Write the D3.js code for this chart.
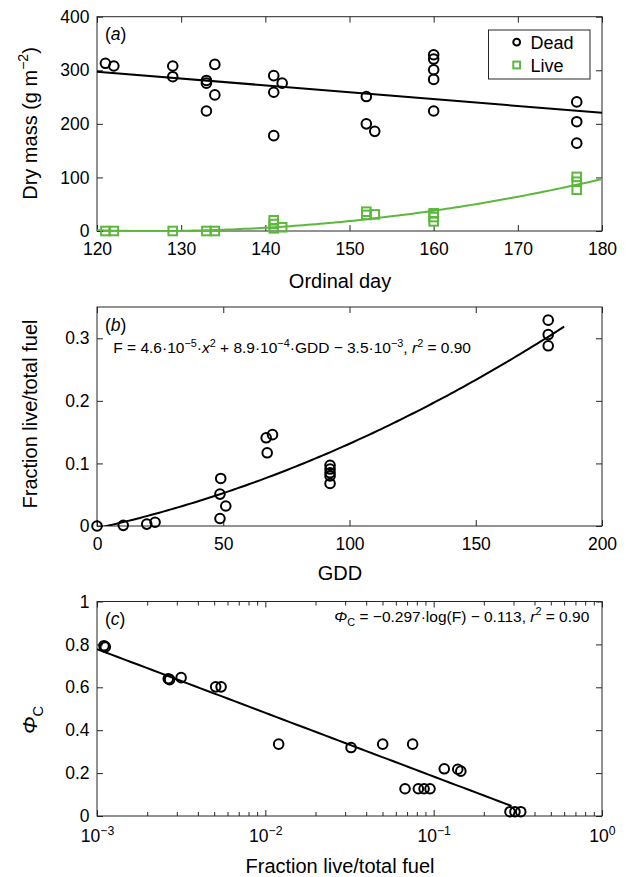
<!DOCTYPE html>
<html>
<head>
<meta charset="utf-8">
<script src="https://cdn.jsdelivr.net/npm/d3@7"></script>
<style>
  html, body { margin: 0; padding: 0; background: #fff; }
  svg { display: block; }
  text { font-family: "Liberation Sans", Arial, Helvetica, sans-serif; fill: #000; }
</style>
</head>
<body>
<svg id="fig" width="630" height="877"></svg>
<script>
// Panel (a): dry mass of dead and live fuel by ordinal day
const deadDay  = [121, 122, 129, 129, 133, 133, 134, 134, 133, 141, 142, 141, 141, 152, 152, 153, 160, 160, 160, 160, 160, 177, 177, 177];
const deadMass = [313, 308, 308, 288, 281, 276, 311, 254, 224, 290, 276, 259, 178, 251, 200, 186, 329, 321, 301, 283, 224, 241, 204, 164];
const liveDay  = [121, 122, 129, 133, 134, 141, 141, 141, 142, 152, 152, 153, 160, 160, 160, 177, 177, 177];
const liveMass = [0, 0, 0, 0, 0, 20, 13, 5, 7, 36, 30, 31, 33, 26, 18, 101, 92, 77];
const deadFit = [-1.28, 451];            // slope, intercept
const liveFit = [0.034, -8.609, 544.9];  // quadratic a, b, c
const dayTicks = [120, 130, 140, 150, 160, 170, 180];
const massTicks = [0, 100, 200, 300, 400];
const legendLabels = ["Dead", "Live"];

// Panel (b): live fraction of total fuel against growing degree days
const gdd  = [0, 10.4, 19.7, 23, 49, 48.7, 51, 48.7, 67, 69.5, 67.4, 92.3, 92.3, 92.3, 92.3, 92.3, 178.7, 178.7, 178.7];
const frac = [0, 0.001, 0.003, 0.006, 0.076, 0.051, 0.032, 0.012, 0.141, 0.146, 0.117, 0.097, 0.091, 0.085, 0.080, 0.068, 0.329, 0.306, 0.288];
const fracFit = [4.6e-6, 8.9e-4, -3.5e-3];
const gddTicks = [0, 50, 100, 150, 200];
const fracTicks = [0, 0.1, 0.2, 0.3];

// Panel (c): Phi_C against live fraction (log axis)
const liveFrac = [0.0011, 0.00112, 0.00265, 0.0027, 0.00316, 0.00507, 0.00546, 0.0120, 0.0323, 0.0498, 0.0750, 0.0676, 0.0811, 0.0877, 0.0951, 0.1156, 0.139, 0.145, 0.284, 0.304, 0.329];
const phiC     = [0.794, 0.788, 0.640, 0.636, 0.645, 0.602, 0.602, 0.335, 0.319, 0.335, 0.335, 0.127, 0.127, 0.127, 0.127, 0.220, 0.218, 0.209, 0.020, 0.020, 0.020];
const phiFit = [-0.297, -0.113];         // slope on log10(F), intercept
const logTicks = [1e-3, 1e-2, 1e-1, 1];
const phiTicks = [0, 0.2, 0.4, 0.6, 0.8, 1];

const GREEN = "#5cb83c";
const FRAME = "#262626";
const svg = d3.select("#fig");
svg.append("rect").attr("width", 630).attr("height", 877).attr("fill", "#fff");

const L = 97, R = 602;
const TICK_FS = 17.5, TITLE_FS = 20, EQ_FS = 15.5;

// text with superscripts / subscripts / italics built from segments
function rich(sel, segs, size) {
  let cur = 0;
  segs.forEach(s => {
    const target = s.sup ? -size * 0.42 : s.sub ? size * 0.28 : 0;
    const ts = sel.append("tspan").text(s.t);
    if (target - cur !== 0) ts.attr("dy", target - cur);
    cur = target;
    if (s.sup || s.sub) ts.attr("font-size", size * 0.7);
    if (s.it) ts.attr("font-style", "italic");
  });
  return sel;
}

function frame(g, top, bottom) {
  g.append("rect").attr("x", L).attr("y", top).attr("width", R - L).attr("height", bottom - top)
    .attr("fill", "none").attr("stroke", FRAME).attr("stroke-width", 1);
}

function styleAxis(sel) {
  sel.select(".domain").remove();
  sel.selectAll(".tick line").attr("stroke", FRAME).attr("stroke-width", 1);
  sel.selectAll("text").attr("font-size", TICK_FS).attr("font-family", "Liberation Sans, Arial, sans-serif").attr("fill", "#000");
}

function axes(g, x, y, top, bottom, xTicks, yTicks, xFmt, yFmt, xPad) {
  const bottomAxis = g.append("g").attr("transform", `translate(0,${bottom})`)
    .call(d3.axisBottom(x).tickValues(xTicks).tickSize(-6).tickSizeOuter(0).tickPadding(xPad).tickFormat(xFmt))
    .call(styleAxis);
  g.append("g").attr("transform", `translate(0,${top})`)
    .call(d3.axisTop(x).tickValues(xTicks).tickSize(-6).tickSizeOuter(0).tickFormat(""))
    .call(styleAxis);
  g.append("g").attr("transform", `translate(${L},0)`)
    .call(d3.axisLeft(y).tickValues(yTicks).tickSize(-6).tickSizeOuter(0).tickPadding(7.5).tickFormat(yFmt))
    .call(styleAxis);
  g.append("g").attr("transform", `translate(${R},0)`)
    .call(d3.axisRight(y).tickValues(yTicks).tickSize(-6).tickSizeOuter(0).tickFormat(""))
    .call(styleAxis);
  return bottomAxis;
}

function circles(g, xs, ys, x, y, color) {
  g.selectAll(null).data(xs.map((d, i) => [d, ys[i]])).join("circle")
    .attr("cx", d => x(d[0])).attr("cy", d => y(d[1])).attr("r", 4.8)
    .attr("fill", "none").attr("stroke", color).attr("stroke-width", 2);
}

function squares(g, xs, ys, x, y, color) {
  const s = 8.6;
  g.selectAll(null).data(xs.map((d, i) => [d, ys[i]])).join("rect")
    .attr("x", d => x(d[0]) - s / 2).attr("y", d => y(d[1]) - s / 2).attr("width", s).attr("height", s)
    .attr("fill", "none").attr("stroke", color).attr("stroke-width", 2);
}

function curve(g, fn, x, y, x0, x1, color, clipId, n = 120) {
  const xs = d3.range(n + 1).map(i => x0 + (x1 - x0) * i / n);
  g.append("path").datum(xs)
    .attr("d", d3.line().x(d => x(d)).y(d => y(fn(d))))
    .attr("fill", "none").attr("stroke", color).attr("stroke-width", 2)
    .attr("clip-path", clipId ? `url(#${clipId})` : null);
}

function clip(id, top, bottom) {
  svg.append("clipPath").attr("id", id).append("rect")
    .attr("x", L).attr("y", top).attr("width", R - L).attr("height", bottom - top);
}

function panelLabel(g, letter, top) {
  rich(g.append("text").attr("x", L + 8).attr("y", top + 23.5).attr("font-size", 17.5),
    [{ t: "(" }, { t: letter, it: true }, { t: ")" }], 17.5);
}

function xTitle(g, text, baseline) {
  g.append("text").attr("x", 340).attr("y", baseline).attr("text-anchor", "middle")
    .attr("font-size", TITLE_FS).text(text);
}

// ---------- Panel (a) ----------
{
  const top = 16.7, bottom = 231;
  const g = svg.append("g");
  const x = d3.scaleLinear([120, 180], [L, R]);
  const y = d3.scaleLinear([0, 400], [bottom, top]);
  clip("clipA", top, bottom);
  frame(g, top, bottom);
  axes(g, x, y, top, bottom, dayTicks, massTicks, d3.format("d"), d3.format("d"), 11.5);

  curve(g, d => deadFit[0] * d + deadFit[1], x, y, 120, 180, "#000", "clipA", 2);
  curve(g, d => liveFit[0] * d * d + liveFit[1] * d + liveFit[2], x, y, 120, 180, GREEN, "clipA");
  circles(g, deadDay, deadMass, x, y, "#000");
  squares(g, liveDay, liveMass, x, y, GREEN);
  panelLabel(g, "a", top);

  // legend
  const lg = g.append("g");
  lg.append("rect").attr("x", 488.5).attr("y", 30).attr("width", 101.5).attr("height", 49)
    .attr("fill", "#fff").attr("stroke", FRAME).attr("stroke-width", 1);
  lg.append("circle").attr("cx", 516.7).attr("cy", 42.2).attr("r", 3.4)
    .attr("fill", "none").attr("stroke", "#000").attr("stroke-width", 2);
  lg.append("rect").attr("x", 516.7 - 3.4).attr("y", 65 - 3.4).attr("width", 6.8).attr("height", 6.8)
    .attr("fill", "none").attr("stroke", GREEN).attr("stroke-width", 2);
  lg.append("text").attr("x", 530.5).attr("y", 48.7).attr("font-size", 18).text(legendLabels[0]);
  lg.append("text").attr("x", 530.5).attr("y", 71.5).attr("font-size", 18).text(legendLabels[1]);

  xTitle(g, "Ordinal day", 287.7);
  rich(g.append("text").attr("transform", "translate(36.5,123.5) rotate(-90)")
      .attr("text-anchor", "middle").attr("font-size", TITLE_FS),
    [{ t: "Dry mass (g m" }, { t: "\u22122", sup: true }, { t: ")" }], TITLE_FS);
}

// ---------- Panel (b) ----------
{
  const top = 307, bottom = 526;
  const g = svg.append("g");
  const x = d3.scaleLinear([0, 200], [L, R]);
  const y = d3.scaleLinear([0, 0.35], [bottom, top]);
  clip("clipB", top, bottom);
  frame(g, top, bottom);
  axes(g, x, y, top, bottom, gddTicks, fracTicks, d3.format("d"), d => d === 0 ? "0" : d3.format(".1f")(d), 11.5);

  curve(g, d => fracFit[0] * d * d + fracFit[1] * d + fracFit[2], x, y, 0, 185, "#000", "clipB");
  circles(g, gdd, frac, x, y, "#000");
  panelLabel(g, "b", top);

  rich(g.append("text").attr("x", 113.3).attr("y", 353.3).attr("font-size", EQ_FS),
    [{ t: "F = 4.6\u00b710" }, { t: "\u22125", sup: true }, { t: "\u00b7" }, { t: "x", it: true }, { t: "2", sup: true },
     { t: " + 8.9\u00b710" }, { t: "\u22124", sup: true }, { t: "\u00b7GDD \u2212 3.5\u00b710" }, { t: "\u22123", sup: true },
     { t: ", " }, { t: "r", it: true }, { t: "2", sup: true }, { t: " = 0.90" }], EQ_FS);

  xTitle(g, "GDD", 580);
  g.append("text").attr("transform", "translate(36.5,414) rotate(-90)")
    .attr("text-anchor", "middle").attr("font-size", TITLE_FS).text("Fraction live/total fuel");
}

// ---------- Panel (c) ----------
{
  const top = 601.5, bottom = 816;
  const g = svg.append("g");
  const x = d3.scaleLog([1e-3, 1], [L, R]);
  const y = d3.scaleLinear([0, 1], [bottom, top]);
  clip("clipC", top, bottom);
  frame(g, top, bottom);
  const xAxisG = axes(g, x, y, top, bottom, logTicks, phiTicks, d => String(d),
    d => d === 0 || d === 1 ? d3.format("d")(d) : d3.format(".1f")(d), 14);

  // power-of-ten tick labels with superscript exponents
  xAxisG.selectAll(".tick text").each(function (d) {
    const t = d3.select(this);
    const e = Math.round(Math.log10(d));
    t.text(null);
    rich(t, [{ t: "10" }, { t: (e < 0 ? "\u2212" : "") + Math.abs(e), sup: true }], TICK_FS);
  });

  // minor log ticks on bottom and top edges
  const minor = [];
  [-3, -2, -1].forEach(k => d3.range(2, 10).forEach(m => minor.push(m * Math.pow(10, k))));
  g.selectAll(null).data(minor).join("line")
    .attr("x1", d => x(d)).attr("x2", d => x(d)).attr("y1", bottom).attr("y2", bottom - 4)
    .attr("stroke", FRAME).attr("stroke-width", 1);
  g.selectAll(null).data(minor).join("line")
    .attr("x1", d => x(d)).attr("x2", d => x(d)).attr("y1", top).attr("y2", top + 4)
    .attr("stroke", FRAME).attr("stroke-width", 1);

  const fitX = d3.range(0, 61).map(i => Math.pow(10, -3 + i * (Math.log10(0.29) + 3) / 60));
  g.append("path").datum(fitX)
    .attr("d", d3.line().x(d => x(d)).y(d => y(phiFit[0] * Math.log10(d) + phiFit[1])))
    .attr("fill", "none").attr("stroke", "#000").attr("stroke-width", 2).attr("clip-path", "url(#clipC)");
  circles(g, liveFrac, phiC, x, y, "#000");
  panelLabel(g, "c", top);

  rich(g.append("text").attr("x", 589.3).attr("y", 621.7).attr("text-anchor", "end").attr("font-size", EQ_FS),
    [{ t: "\u03a6", it: true }, { t: "C", sub: true }, { t: " = \u22120.297\u00b7log(F) \u2212 0.113, " },
     { t: "r", it: true }, { t: "2", sup: true }, { t: " = 0.90" }], EQ_FS);

  xTitle(g, "Fraction live/total fuel", 872.5);
  rich(g.append("text").attr("transform", "translate(37,720) rotate(-90)")
      .attr("text-anchor", "middle").attr("font-size", 21),
    [{ t: "\u03a6", it: true }, { t: "C", sub: true }], 21);
}
</script>
</body>
</html>
